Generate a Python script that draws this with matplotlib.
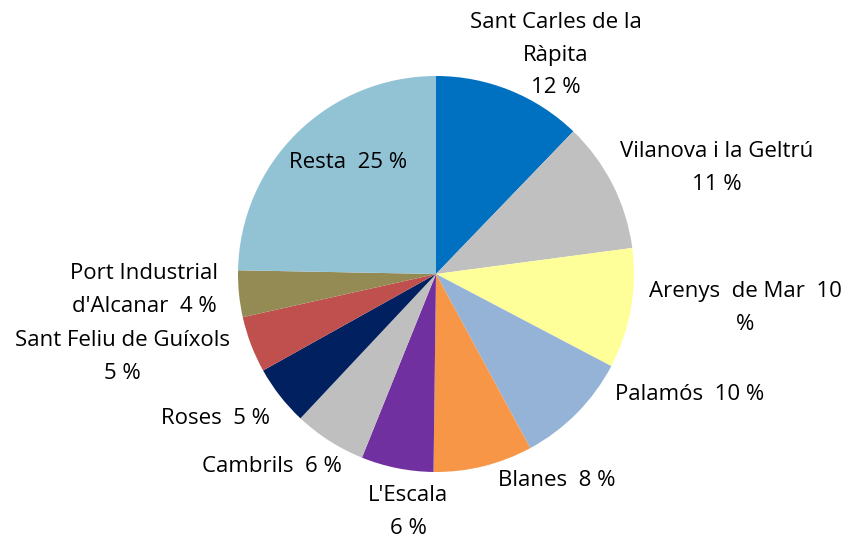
import matplotlib.pyplot as plt

# dades (sentit horari des de dalt)
labels = ["Sant Carles de la\nRàpita\n12 %", "Vilanova i la Geltrú\n11 %",
          "Arenys  de Mar  10\n%", "Palamós  10 %", "Blanes  8 %",
          "L'Escala\n6 %", "Cambrils  6 %", "Roses  5 %",
          "Sant Feliu de Guíxols\n5 %", "Port Industrial\nd'Alcanar  4 %",
          "Resta  25 %"]
values = [12.2, 10.7, 9.8, 9.4, 8.1, 5.9, 5.9, 4.9, 4.6, 3.8, 24.7]
colors = ["#0070C0", "#C0C0C0", "#FFFF99", "#95B3D7", "#F79646", "#7030A0",
          "#BFBFBF", "#002060", "#C0504D", "#948A54", "#92C3D5"]

# posicions de les etiquetes en pixels (x, y)
label_px = [(556, 55), (717, 168), (745, 308), (690, 395), (557, 480),
            (408, 512), (272, 467), (215, 418), (122, 357), (144, 290),
            (348, 163)]

W, H = 851, 539
CX, CY, R = 436, 274, 198

plt.rcParams['font.family'] = ['Open Sans', 'DejaVu Sans']
fig = plt.figure(figsize=(W / 100, H / 100), dpi=100)
ax = fig.add_axes([(CX - R) / W, (H - CY - R) / H, 2 * R / W, 2 * R / H])

ax.pie(values, colors=colors, startangle=90, counterclock=False,
       wedgeprops=dict(linewidth=0))
ax.set_xlim(-1, 1)
ax.set_ylim(-1, 1)
ax.set_aspect('equal')
ax.axis('off')

for lab, (px, py) in zip(labels, label_px):
    ax.text((px - CX) / R, (CY - py) / R, lab, ha='center', va='center',
            fontsize=16, linespacing=1.73, clip_on=False)

fig.savefig("out.png", dpi=100)
